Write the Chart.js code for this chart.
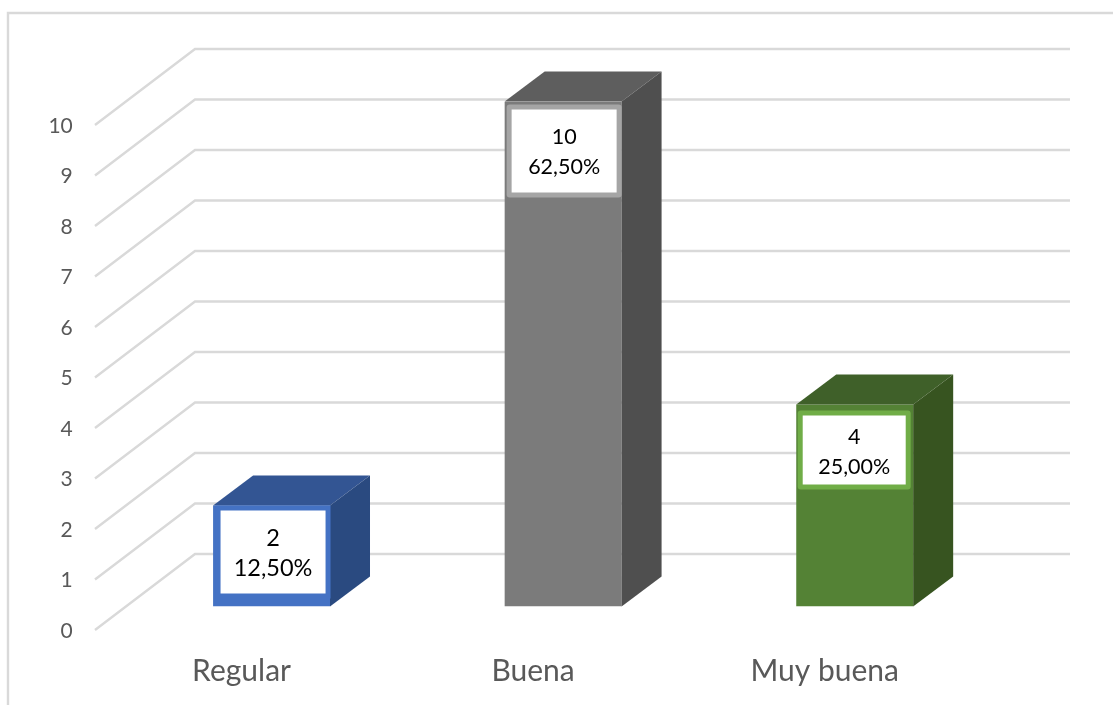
<!DOCTYPE html>
<html><head><meta charset="utf-8">
<style>html,body{margin:0;padding:0;background:#fff}canvas{display:block}</style>
<script src="https://cdn.jsdelivr.net/npm/chart.js@4"></script></head>
<body><canvas id="c" width="1113" height="705"></canvas>
<script>
const categories = ['Regular', 'Buena', 'Muy buena'];
const counts = [2, 10, 4];
const percentLabels = ['12,50%', '62,50%', '25,00%'];
const yTicks = [0, 1, 2, 3, 4, 5, 6, 7, 8, 9, 10];
const frontColors = ['#4472C4', '#7B7B7B', '#548235'];
const topColors = ['#335593', '#5E5E5E', '#3F6029'];
const sideColors = ['#2A4A80', '#4F4F4F', '#375420'];
const boxBorderColors = ['#4472C4', '#A5A5A5', '#70AD47'];

const DEPTH = {dx: 40, dy: -30};
const WALL = {left: 95, leftDy: 23.5, backX: 195, backDy: -52.5, right: 1070};
const BOX = {top: [5, 8, 11], height: [83, 83, 69], dx: [1.5, 1, -0.5], width: [105, 105, 103], border: 5,
  radius: [0, 3, 3], textDy: [28, 28, 22], fontSize: [23.5, 21.5, 21.5]};

const depth3d = {
  id: 'depth3d',
  beforeDatasetsDraw(chart) {
    const c = chart.ctx, y = chart.scales.y;
    c.save();
    c.strokeStyle = '#D9D9D9'; c.lineWidth = 2.4;
    c.beginPath(); c.moveTo(8, 705); c.lineTo(8, 13); c.lineTo(1113, 13); c.stroke();
    yTicks.forEach(v => {
      const p = y.getPixelForValue(v);
      c.beginPath();
      c.moveTo(WALL.left, p + WALL.leftDy);
      c.lineTo(WALL.backX, p + WALL.backDy);
      c.lineTo(WALL.right, p + WALL.backDy);
      c.stroke();
    });
    c.restore();
  },
  afterDatasetsDraw(chart) {
    const c = chart.ctx;
    chart.getDatasetMeta(0).data.forEach((b, i) => {
      const l = b.x - b.width / 2, r = b.x + b.width / 2, t = b.y, bt = b.base;
      c.save();
      c.fillStyle = topColors[i];
      c.beginPath(); c.moveTo(l, t); c.lineTo(l + DEPTH.dx, t + DEPTH.dy);
      c.lineTo(r + DEPTH.dx, t + DEPTH.dy); c.lineTo(r, t); c.closePath(); c.fill();
      c.fillStyle = sideColors[i];
      c.beginPath(); c.moveTo(r, t); c.lineTo(r + DEPTH.dx, t + DEPTH.dy);
      c.lineTo(r + DEPTH.dx, bt + DEPTH.dy); c.lineTo(r, bt); c.closePath(); c.fill();
      const w = BOX.width[i];
      const wx = b.x + BOX.dx[i] - w / 2, wy = t + BOX.top[i];
      c.fillStyle = boxBorderColors[i];
      c.beginPath();
      c.roundRect(wx - BOX.border, wy - BOX.border, w + 2 * BOX.border, BOX.height[i] + 2 * BOX.border, BOX.radius[i]);
      c.fill();
      c.fillStyle = '#fff';
      c.fillRect(wx, wy, w, BOX.height[i]);
      c.fillStyle = '#000';
      c.font = BOX.fontSize[i] + 'px Lato';
      c.textAlign = 'center'; c.textBaseline = 'middle';
      const cx = wx + w / 2;
      c.fillText(String(counts[i]), cx, wy + BOX.textDy[i]);
      c.fillText(percentLabels[i], cx, wy + BOX.textDy[i] + 30);
      c.restore();
    });
  }
};

new Chart(document.getElementById('c'), {
  type: 'bar',
  data: {labels: categories, datasets: [{data: counts, backgroundColor: frontColors, borderWidth: 0,
    categoryPercentage: 1, barPercentage: 0.401}]},
  options: {
    responsive: false, animation: false,
    layout: {padding: {top: 101.5, right: 112.5, bottom: 0, left: 0}},
    plugins: {legend: {display: false}, tooltip: {enabled: false}},
    scales: {
      x: {
        grid: {display: false, drawTicks: false}, border: {display: false},
        afterFit(s) { s.height = 98.5; },
        ticks: {color: '#595959', font: {family: 'Lato', size: 30}, padding: 47, labelOffset: -30, maxRotation: 0}
      },
      y: {
        min: 0, max: 10,
        grid: {display: false, drawTicks: false}, border: {display: false},
        afterFit(s) { s.width = 125.75; },
        afterBuildTicks(s) { s.ticks = yTicks.map(v => ({value: v})); },
        ticks: {color: '#595959', font: {family: 'Lato', size: 21}, padding: 53, labelOffset: 24.5}
      }
    }
  },
  plugins: [depth3d]
});
</script></body></html>
